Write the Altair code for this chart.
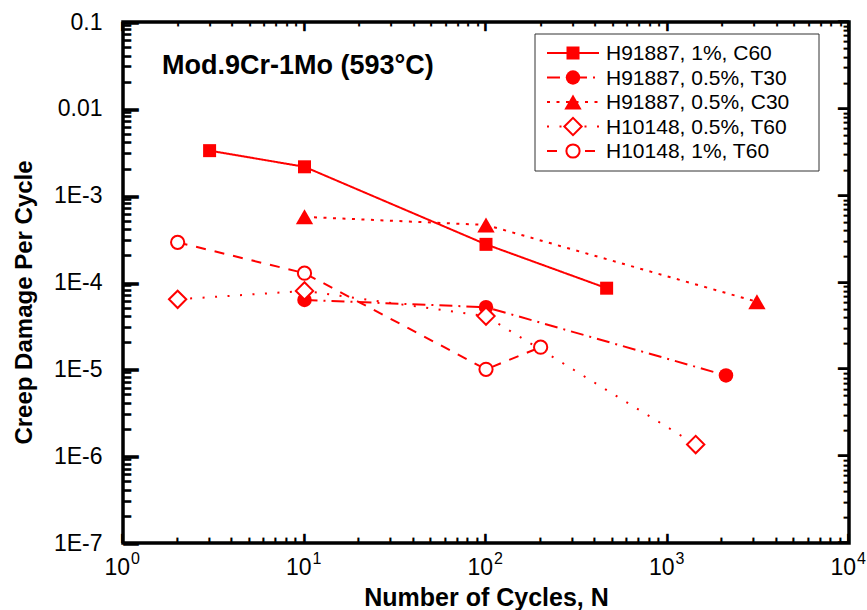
import altair as alt
import pandas as pd

# ---------------- data ----------------
series_names = ["H91887, 1%, C60", "H91887, 0.5%, T30", "H91887, 0.5%, C30",
                "H10148, 0.5%, T60", "H10148, 1%, T60"]

s1_cycles = [3, 10, 100, 462]
s1_damage = [3.3e-3, 2.15e-3, 2.75e-4, 8.6e-5]

s2_cycles = [10, 100, 2100]
s2_damage = [6.3e-5, 5.2e-5, 8.5e-6]

s3_cycles = [10, 100, 3110]
s3_damage = [5.7e-4, 4.6e-4, 6.0e-5]

s4_cycles = [2, 10, 100, 1430]
s4_damage = [6.4e-5, 8.0e-5, 4.1e-5, 1.36e-6]

s5_cycles = [2, 10, 100, 200]
s5_damage = [2.9e-4, 1.28e-4, 1.0e-5, 1.8e-5]

x_major = [1, 10, 100, 1000, 10000]
x_base_labels = ["10", "10", "10", "10", "10"]
x_exp_labels = ["0", "1", "2", "3", "4"]

y_major = [1e-7, 1e-6, 1e-5, 1e-4, 1e-3, 1e-2, 1e-1]
y_labels = ["1E-7", "1E-6", "1E-5", "1E-4", "1E-3", "0.01", "0.1"]

title_text = "Mod.9Cr-1Mo (593°C)"
x_title = "Number of Cycles, N"
y_title = "Creep Damage Per Cycle"

# ---------------- styles ----------------
RED = "#ff0000"
FONT = "Liberation Sans"
W, H = 726, 521

styles = [
    dict(shape="square", filled=True, size=169, dash=[1, 0]),
    dict(shape="circle", filled=True, size=210, dash=[13, 6, 2, 6]),
    dict(shape="triangle-up", filled=True, size=300, dash=[3, 6.5]),
    dict(shape="diamond", filled=False, size=300, dash=[2, 10.5]),
    dict(shape="circle", filled=False, size=175, dash=[10, 9]),
]

all_cycles = [s1_cycles, s2_cycles, s3_cycles, s4_cycles, s5_cycles]
all_damage = [s1_damage, s2_damage, s3_damage, s4_damage, s5_damage]

xscale = alt.Scale(type="log", domain=[1, 10000])
yscale = alt.Scale(type="log", domain=[1e-7, 0.1])

label_expr = "".join(
    f"abs(datum.value/{v} - 1) < 0.001 ? '{lab}' : " for v, lab in zip(y_major, y_labels)
) + "''"

x_axis = alt.Axis(title=x_title, labels=False, ticks=False, domain=False, grid=False,
                  titleFont=FONT, titleFontSize=25, titleFontWeight="bold",
                  titleColor="black", titleY=62, titleBaseline="alphabetic")
y_axis = alt.Axis(title=y_title, values=y_major, labelExpr=label_expr, ticks=False,
                  domain=False, grid=False, labelFont=FONT, labelFontSize=23,
                  labelColor="black", labelPadding=21, labelBaseline="middle",
                  titleFont=FONT, titleFontSize=24, titleFontWeight="bold",
                  titleColor="black", titleAngle=270, titleX=-99, titleY=280,
                  titleAlign="center", titleBaseline="middle")


def X(field):
    return alt.X(f"{field}:Q", scale=xscale, axis=x_axis)


def Y(field):
    return alt.Y(f"{field}:Q", scale=yscale, axis=y_axis)


layers = []

# ---------------- data series ----------------
for name, cyc, dmg, st in zip(series_names, all_cycles, all_damage, styles):
    df = pd.DataFrame({"N": cyc, "D": dmg, "series": name})
    line = alt.Chart(df).mark_line(color=RED, strokeWidth=2, strokeDash=st["dash"]).encode(
        x=X("N"), y=Y("D"))
    layers.append(line)
for name, cyc, dmg, st in zip(series_names, all_cycles, all_damage, styles):
    df = pd.DataFrame({"N": cyc, "D": dmg, "series": name})
    if st["filled"]:
        pm = alt.Chart(df).mark_point(shape=st["shape"], filled=True, color=RED,
                                      opacity=1, size=st["size"])
    else:
        pm = alt.Chart(df).mark_point(shape=st["shape"], filled=True, fill="white",
                                      stroke=RED, strokeWidth=2, opacity=1,
                                      size=st["size"])
    layers.append(pm.encode(x=X("N"), y=Y("D")))

# ---------------- x tick labels (10 with superscript) ----------------
xl_df = pd.DataFrame({"v": x_major, "base": x_base_labels, "exp": x_exp_labels})
layers.append(alt.Chart(xl_df).mark_text(font=FONT, fontSize=23, color="black",
                                         align="right", baseline="alphabetic", dx=7).encode(
    x=X("v"), y=alt.value(H + 32), text="base:N"))
layers.append(alt.Chart(xl_df).mark_text(font=FONT, fontSize=16, color="black",
                                         align="left", baseline="alphabetic", dx=8).encode(
    x=X("v"), y=alt.value(H + 21), text="exp:N"))

# ---------------- title inside plot ----------------
one = pd.DataFrame({"t": [title_text]})
layers.append(alt.Chart(one).mark_text(font=FONT, fontSize=27, fontWeight="bold",
                                       color="black", align="left",
                                       baseline="alphabetic").encode(
    x=alt.value(39), y=alt.value(52), text="t:N"))

# ---------------- legend ----------------
box = pd.DataFrame({"k": [0]})
layers.append(alt.Chart(box).mark_rect(fill="white", stroke="#333333", strokeWidth=1).encode(
    x=alt.value(412), x2=alt.value(696), y=alt.value(12), y2=alt.value(149)))
for i, (name, st) in enumerate(zip(series_names, styles)):
    ry = 31 + 24.5 * i
    row = pd.DataFrame({"name": [name]})
    layers.append(alt.Chart(row).mark_rule(color=RED, strokeWidth=2,
                                           strokeDash=st["dash"]).encode(
        x=alt.value(424), x2=alt.value(476), y=alt.value(ry)))
    if st["filled"]:
        pm = alt.Chart(row).mark_point(shape=st["shape"], filled=True, color=RED,
                                       opacity=1, size=st["size"])
    else:
        pm = alt.Chart(row).mark_point(shape=st["shape"], filled=True, fill="white",
                                       stroke=RED, strokeWidth=2, opacity=1,
                                       size=st["size"])
    layers.append(pm.encode(x=alt.value(450), y=alt.value(ry)))
    layers.append(alt.Chart(row).mark_text(font=FONT, fontSize=21, color="black",
                                           align="left", baseline="middle").encode(
        x=alt.value(483), y=alt.value(ry + 1), text="name:N"))

# ---------------- inward ticks on all four sides ----------------
# drawn as stroked em-dash glyphs placed through the axis scales
y_minor = [m * k for m in y_major[:-1] for k in range(2, 10)]
x_minor = [m * k for m in x_major[:-1] for k in range(2, 10)]
TICK = "\u2014"
ymaj = pd.DataFrame({"yt": y_major, "g": TICK})
ymin = pd.DataFrame({"yt": y_minor, "g": TICK})
xmaj = pd.DataFrame({"xt": x_major, "g": TICK})
xmin = pd.DataFrame({"xt": x_minor, "g": TICK})

for df, size, align, px in [(ymaj, 16, "left", 0), (ymin, 8, "left", 0),
                            (ymaj, 11, "right", W), (ymin, 5, "right", W)]:
    layers.append(alt.Chart(df).mark_text(font="DejaVu Sans", fontWeight="bold",
                                          fontSize=size, align=align, baseline="middle",
                                          color="black", stroke="black", strokeWidth=1.4,
                                          dy=0).encode(
        y=Y("yt"), x=alt.value(px), text="g:N"))
for df, size, align, py in [(xmaj, 9, "right", H), (xmin, 5, "right", H),
                            (xmaj, 9, "left", 0), (xmin, 4, "left", 0)]:
    layers.append(alt.Chart(df).mark_text(font="DejaVu Sans", fontWeight="bold",
                                          fontSize=size, align=align, baseline="middle",
                                          angle=90, color="black", stroke="black",
                                          strokeWidth=1.4).encode(
        x=X("xt"), y=alt.value(py), text="g:N"))

chart = alt.layer(*layers).properties(
    width=W, height=H,
    autosize=alt.AutoSizeParams(type="none"),
    padding={"left": 123, "top": 22, "right": 18, "bottom": 67},
    background="white",
).configure_view(stroke="black", strokeWidth=3.5)

chart.save("out.html", embed_options={"renderer": "svg", "actions": False})
